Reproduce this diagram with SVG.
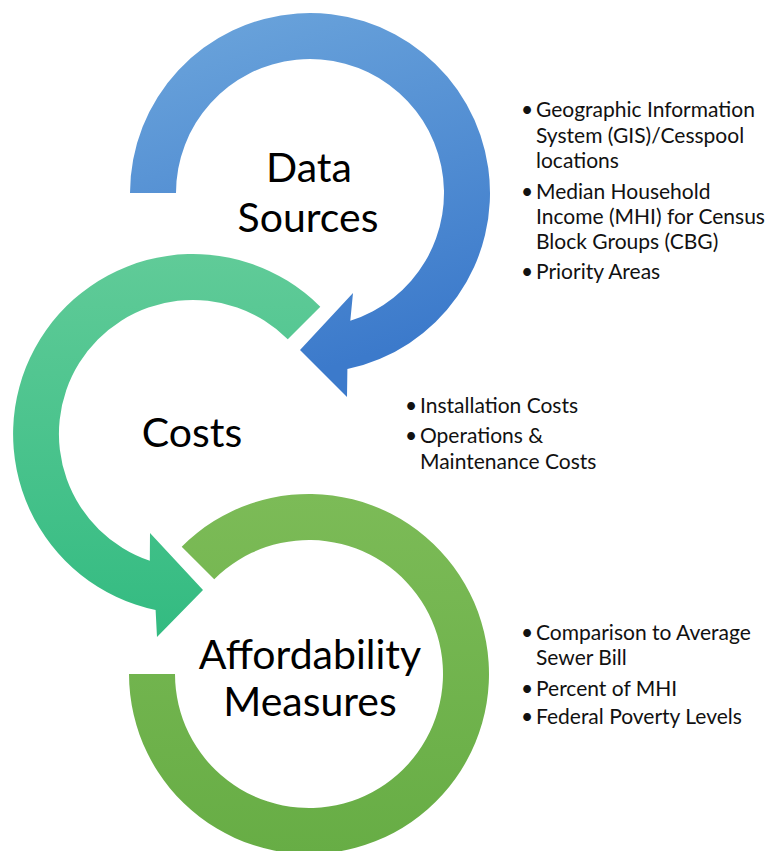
<svg xmlns="http://www.w3.org/2000/svg" width="768" height="851" viewBox="0 0 768 851">
<defs>
<linearGradient id="gBlue" x1="0" y1="0" x2="0.3" y2="1">
<stop offset="0" stop-color="#6DA6DC"/>
<stop offset="1" stop-color="#3C7ACB"/>
</linearGradient>
<linearGradient id="gTeal" x1="0" y1="0" x2="0" y2="1">
<stop offset="0" stop-color="#60CB98"/>
<stop offset="1" stop-color="#33BB81"/>
</linearGradient>
<linearGradient id="gGreen" x1="0" y1="0" x2="0" y2="1">
<stop offset="0" stop-color="#7CBB57"/>
<stop offset="1" stop-color="#67AD45"/>
</linearGradient>
<style>
.lbl{font-family:Lato,"Open Sans",sans-serif;font-size:41px;fill:#000;text-anchor:middle}
.blt{font-family:Lato,"Open Sans",sans-serif;font-size:21px;fill:#111}
</style>
</defs>
<rect width="768" height="851" fill="#fff"/>
<g id="connectors"/>
<g id="affordability">
<path d="M 181.7 546.7 A 180 180 0 1 1 129 674 L 175 674 A 134 134 0 1 0 214.25 579.25 Z" fill="url(#gGreen)"/>
<text class="lbl" x="310" y="669">Affordability</text>
<text class="lbl" x="310" y="716">Measures</text>
</g>
<g id="costs">
<path d="M 320.3 306.7 A 180 180 0 1 0 155.6 610.1 L 157 637 L 203 590 L 150 533 L 149.8 560.8 A 134 134 0 1 1 287.75 339.25 Z" fill="url(#gTeal)"/>
<text class="lbl" x="192" y="447">Costs</text>
</g>
<g id="data-sources">
<path d="M 130 193 A 180 180 0 1 1 347.4 369.1 L 347 397 L 300 350 L 353 293 L 350.3 320.8 A 134 134 0 1 0 176 193 Z" fill="url(#gBlue)"/>
<text class="lbl" x="309" y="182">Data</text>
<text class="lbl" x="308" y="232">Sources</text>
</g>
<g id="data-sources-bullets" class="blt">
<text x="521" y="117">•</text>
<text x="536" y="117">Geographic Information</text>
<text x="536" y="143">System (GIS)/Cesspool</text>
<text x="536" y="168">locations</text>
<text x="521" y="199">•</text>
<text x="536" y="199">Median Household</text>
<text x="536" y="224">Income (MHI) for Census</text>
<text x="536" y="249">Block Groups (CBG)</text>
<text x="521" y="279">•</text>
<text x="536" y="279">Priority Areas</text>
</g>
<g id="costs-bullets" class="blt">
<text x="405" y="413">•</text>
<text x="420" y="413">Installation Costs</text>
<text x="405" y="443">•</text>
<text x="420" y="443">Operations &amp;</text>
<text x="420" y="469">Maintenance Costs</text>
</g>
<g id="affordability-bullets" class="blt">
<text x="521" y="640">•</text>
<text x="536" y="640">Comparison to Average</text>
<text x="536" y="665">Sewer Bill</text>
<text x="521" y="696">•</text>
<text x="536" y="696">Percent of MHI</text>
<text x="521" y="724">•</text>
<text x="536" y="724">Federal Poverty Levels</text>
</g>
</svg>
